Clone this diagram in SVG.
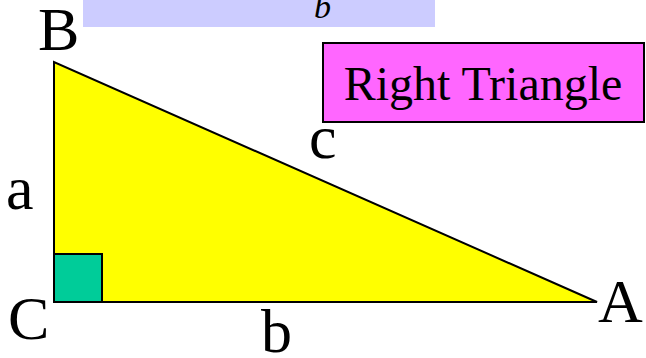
<svg xmlns="http://www.w3.org/2000/svg" width="646" height="358" viewBox="0 0 646 358">
<style>
text{font-family:'Liberation Serif','Times New Roman',serif;fill:#000}
.lbl{font-size:62px}
.shape{stroke:#000;stroke-width:2}
</style>
<rect width="646" height="358" fill="#fff"/>
<g id="banner">
<rect x="83" y="0" width="352" height="27" fill="#CCCCFF"/>
<text x="314" y="18" font-style="italic" font-size="34">b</text>
</g>
<g id="triangle">
<polygon class="shape" points="54,62 54,302 597,302" fill="#FFFF00"/>
<rect class="shape" x="54" y="254" width="48" height="48" fill="#00CC99"/>
</g>
<g id="title">
<rect class="shape" x="323" y="43" width="321" height="79" fill="#FF66FF"/>
<text x="483" y="100" text-anchor="middle" font-size="48">Right Triangle</text>
</g>
<g id="labels">
<text class="lbl" x="38" y="50">B</text>
<text class="lbl" x="8" y="339">C</text>
<text class="lbl" x="598" y="322">A</text>
<text class="lbl" x="6" y="209">a</text>
<text class="lbl" x="309" y="158">c</text>
<text class="lbl" x="261" y="352">b</text>
</g>
</svg>
